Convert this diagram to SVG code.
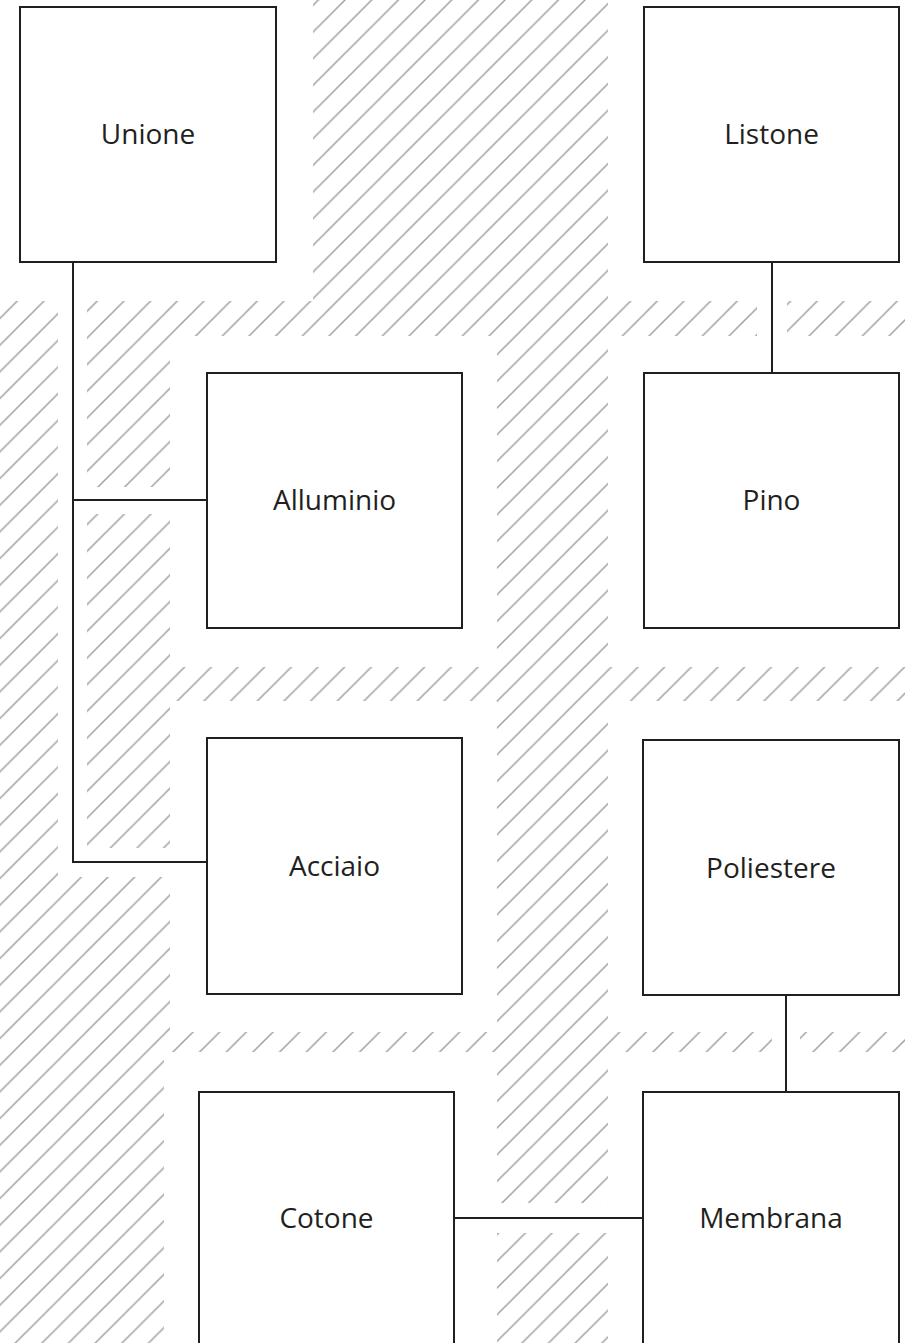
<svg xmlns="http://www.w3.org/2000/svg" width="905" height="1343" viewBox="0 0 905 1343">
  <style>
    .node rect { fill: #ffffff; stroke: #231f20; stroke-width: 2; }
    .node text { font-family: "Open Sans", "Noto Sans", "Liberation Sans", sans-serif; font-size: 28px; fill: #231f20; text-anchor: middle; }
    .conn { stroke: #231f20; stroke-width: 2; fill: none; }
    .hatch { fill: url(#diag); }
  </style>
  <defs>
    <pattern id="diag" patternUnits="userSpaceOnUse" x="-1.667" y="0" width="26.667" height="26.667">
      <path d="M-2,2 L2,-2 M0,26.667 L26.667,0 M24.667,28.667 L28.667,24.667" stroke="#a0a0a0" stroke-width="1.5" fill="none"/>
    </pattern>
  </defs>
  <rect x="0" y="0" width="905" height="1343" fill="#ffffff"/>
  <g id="hatching">
    <path class="hatch" d="
      M313,0 H608 V301 H313 Z
      M0,301 H58 V878 H0 Z
      M87,301 H170 V487 H87 Z
      M87,301 H757 V336 H87 Z
      M787,301 H905 V336 H787 Z
      M497,301 H608 V1203 H497 Z
      M87,514 H170 V848 H87 Z
      M170,667 H905 V701 H170 Z
      M0,877 H170 V1032 H0 Z
      M0,1032 H164 V1343 H0 Z
      M164,1032 H772 V1052 H164 Z
      M800,1032 H905 V1052 H800 Z
      M497,1233 H608 V1343 H497 Z"/>
  </g>
  <g id="connectors">
    <path class="conn" d="M73,262 L73,862 L207,862"/>
    <path class="conn" d="M73,500 L207,500"/>
    <path class="conn" d="M772,262 L772,373"/>
    <path class="conn" d="M786,995 L786,1092"/>
    <path class="conn" d="M455,1218 L643,1218"/>
  </g>
  <g id="node-unione" class="node">
    <rect x="20" y="7" width="256" height="255"/>
    <text x="148" y="144">Unione</text>
  </g>
  <g id="node-listone" class="node">
    <rect x="644" y="7" width="255" height="255"/>
    <text x="771.5" y="144">Listone</text>
  </g>
  <g id="node-alluminio" class="node">
    <rect x="207" y="373" width="255" height="255"/>
    <text x="334.5" y="510">Alluminio</text>
  </g>
  <g id="node-pino" class="node">
    <rect x="644" y="373" width="255" height="255"/>
    <text x="771.5" y="510">Pino</text>
  </g>
  <g id="node-acciaio" class="node">
    <rect x="207" y="738" width="255" height="256"/>
    <text x="334.5" y="876">Acciaio</text>
  </g>
  <g id="node-poliestere" class="node">
    <rect x="643" y="740" width="256" height="255"/>
    <text x="771" y="878">Poliestere</text>
  </g>
  <g id="node-cotone" class="node">
    <rect x="199" y="1092" width="255" height="300"/>
    <text x="326.5" y="1228">Cotone</text>
  </g>
  <g id="node-membrana" class="node">
    <rect x="643" y="1092" width="256" height="300"/>
    <text x="771" y="1228">Membrana</text>
  </g>
</svg>
